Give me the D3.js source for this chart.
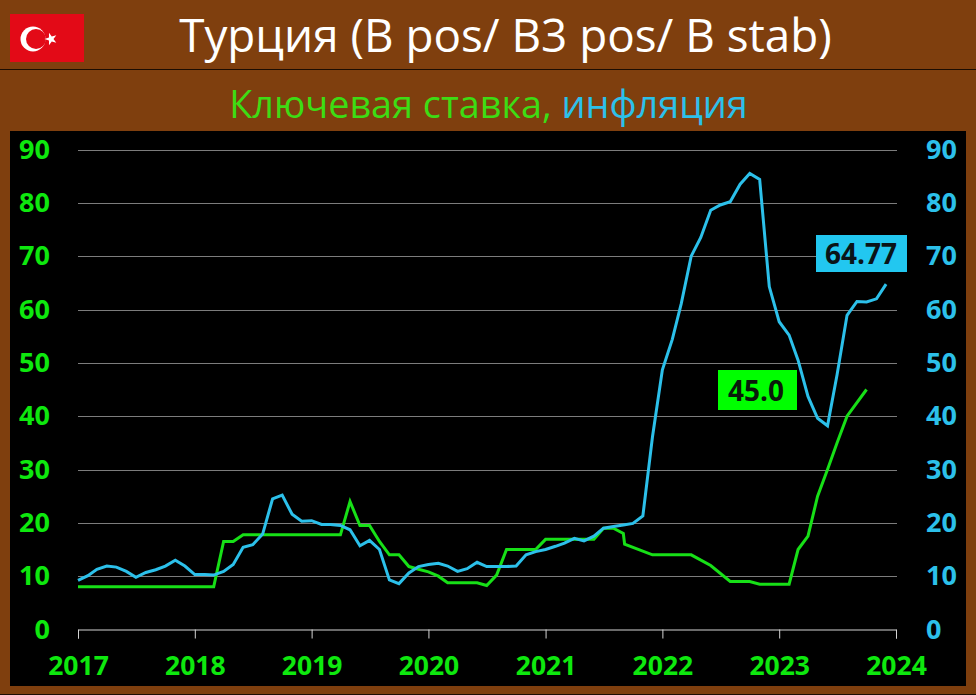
<!DOCTYPE html>
<html>
<head>
<meta charset="utf-8">
<script src="https://cdn.jsdelivr.net/npm/d3@7"></script>
<style>
	html, body { margin: 0; padding: 0; background: #7f3f0e; }
	svg { display: block; font-family: "Open Sans", sans-serif; }
</style>
</head>
<body>
<div id="chart"></div>
<script>
(function() {

	//monthly inflation, Jan 2017 - Dec 2023
	var inflationStart = "2017-01-01";
	var inflationValues = [
		9.2, 10.1, 11.3, 11.9, 11.7, 10.9, 9.8, 10.7, 11.2, 11.9, 13.0, 11.9,
		10.3, 10.3, 10.2, 10.9, 12.2, 15.4, 15.9, 17.9, 24.5, 25.2, 21.6, 20.3,
		20.4, 19.7, 19.7, 19.5, 18.7, 15.7, 16.7, 15.0, 9.3, 8.6, 10.6, 11.8,
		12.2, 12.4, 11.9, 10.9, 11.4, 12.6, 11.8, 11.8, 11.8, 11.9, 14.0, 14.6,
		15.0, 15.6, 16.2, 17.1, 16.6, 17.5, 19.0, 19.3, 19.6, 19.9, 21.3, 36.1,
		48.7, 54.4, 61.1, 70.0, 73.5, 78.6, 79.6, 80.2, 83.5, 85.5, 84.4, 64.3,
		57.7, 55.2, 50.5, 43.7, 39.6, 38.2, 47.8, 58.9, 61.5, 61.4, 62.0, 64.77
	];

	//key rate, turning points
	var rateDates = [
		"2017-01-01", "2018-03-01", "2018-04-01", "2018-05-01", "2018-06-01", "2019-04-01",
		"2019-05-01", "2019-06-01", "2019-07-01", "2019-08-01", "2019-09-01", "2019-10-01",
		"2019-11-01", "2019-12-01", "2020-01-01", "2020-02-01", "2020-03-01", "2020-06-01",
		"2020-07-01", "2020-08-01", "2020-09-01", "2020-12-01", "2021-01-01", "2021-06-01",
		"2021-07-01", "2021-08-01", "2021-09-01", "2021-09-05", "2021-12-01", "2022-04-01",
		"2022-06-01", "2022-08-01", "2022-10-01", "2022-11-01", "2023-02-01", "2023-03-01",
		"2023-04-01", "2023-05-01", "2023-06-01", "2023-07-01", "2023-08-01", "2023-10-01"
	];
	var rateValues = [
		8, 8, 16.5, 16.5, 17.75, 17.75,
		24, 19.5, 19.5, 16.5, 14, 14,
		11.8, 11.3, 10.8, 10, 8.75, 8.75,
		8.25, 10.2, 15, 15, 16.9, 16.9,
		19, 19, 18, 16, 14, 14,
		12, 9, 9, 8.5, 8.5, 15,
		17.5, 25, 30, 35, 40, 45
	];

	var yTicks = [0, 10, 20, 30, 40, 50, 60, 70, 80, 90];
	var yearTicks = [2017, 2018, 2019, 2020, 2021, 2022, 2023, 2024];

	var titleText = "Турция (B pos/ B3 pos/ B stab)";
	var subtitleRate = "Ключевая ставка, ";
	var subtitleInflation = "инфляция";
	var inflationLabel = "64.77";
	var rateLabel = "45.0";

	var brown = "#7f3f0e", green = "#0ee80e", blue = "#2cc0ea";

	var width = 976, height = 695;
	var svg = d3.select("#chart").append("svg")
		.attr("width", width)
		.attr("height", height);

	//panels
	svg.append("rect").attr("width", width).attr("height", height).attr("fill", brown);
	svg.append("rect").attr("x", 10).attr("y", 131).attr("width", 956).attr("height", 555).attr("fill", "#000");
	svg.append("line").attr("x1", 0).attr("x2", width).attr("y1", 69.5).attr("y2", 69.5).attr("stroke", "#1c0d02");
	svg.append("line").attr("x1", 0).attr("x2", width).attr("y1", 694.5).attr("y2", 694.5).attr("stroke", "#1c0d02");

	//flag
	var flag = svg.append("g");
	flag.append("rect").attr("x", 10).attr("y", 14).attr("width", 74).attr("height", 48).attr("fill", "#e30a17");
	flag.append("circle").attr("cx", 33).attr("cy", 39).attr("r", 12.5).attr("fill", "#fff");
	flag.append("circle").attr("cx", 36).attr("cy", 39).attr("r", 10).attr("fill", "#e30a17");
	flag.append("path")
		.attr("d", d3.symbol().type(d3.symbolStar).size(48)())
		.attr("transform", "translate(51,39) rotate(-18)")
		.attr("fill", "#fff");

	//titles
	svg.append("text")
		.attr("x", 505.5).attr("y", 52)
		.attr("text-anchor", "middle")
		.attr("font-size", 45.8)
		.attr("fill", "#fff")
		.text(titleText);

	var sub = svg.append("text")
		.attr("x", 488.5).attr("y", 118)
		.attr("text-anchor", "middle")
		.attr("font-size", 37.8);
	sub.append("tspan").attr("fill", "#3ddc14").text(subtitleRate);
	sub.append("tspan").attr("fill", blue).text(subtitleInflation);

	//scales
	var parse = d3.utcParse("%Y-%m-%d");
	var x = d3.scaleUtc()
		.domain([parse("2017-01-01"), parse("2024-01-01")])
		.range([78, 896]);
	var y = d3.scaleLinear().domain([0, 90]).range([629.5, 149.5]);

	//grid
	svg.append("g").selectAll("line")
		.data(yTicks.slice(1))
		.enter().append("line")
		.attr("x1", 78).attr("x2", 897)
		.attr("y1", function(d) { return Math.round(y(d)) + 0.5; })
		.attr("y2", function(d) { return Math.round(y(d)) + 0.5; })
		.attr("stroke", "#7c7c7c");

	//axes
	var xAxis = d3.axisBottom(x)
		.tickValues(yearTicks.map(function(d) { return parse(d + "-01-01"); }))
		.tickFormat(d3.utcFormat("%Y"))
		.tickSizeOuter(0)
		.tickSize(9)
		.tickPadding(18);
	var gx = svg.append("g").attr("transform", "translate(0,629.5)").call(xAxis);
	gx.selectAll("line, path").attr("stroke", "#d4d4d4");
	gx.selectAll("text")
		.attr("fill", green)
		.attr("font-family", "'Open Sans', sans-serif")
		.attr("font-weight", "bold")
		.attr("font-size", 26.5);

	var yLeft = d3.axisLeft(y).tickValues(yTicks).tickSize(0).tickPadding(0);
	var gl = svg.append("g").attr("transform", "translate(50,0)").call(yLeft);
	gl.select(".domain").remove();
	gl.selectAll("text")
		.attr("fill", green)
		.attr("font-family", "'Open Sans', sans-serif")
		.attr("font-weight", "bold")
		.attr("font-size", 27);

	var yRight = d3.axisRight(y).tickValues(yTicks).tickSize(0).tickPadding(0);
	var gr = svg.append("g").attr("transform", "translate(926,0)").call(yRight);
	gr.select(".domain").remove();
	gr.selectAll("text")
		.attr("fill", blue)
		.attr("font-family", "'Open Sans', sans-serif")
		.attr("font-weight", "bold")
		.attr("font-size", 27);

	//lines
	var line = d3.line()
		.x(function(d) { return x(d.date); })
		.y(function(d) { return y(d.value); });

	var rate = rateDates.map(function(d, i) { return { date: parse(d), value: rateValues[i] }; });
	var start = parse(inflationStart);
	var inflation = inflationValues.map(function(v, i) {
		return { date: d3.utcMonth.offset(start, i), value: v };
	});

	svg.append("path").datum(rate)
		.attr("d", line).attr("fill", "none")
		.attr("stroke", "#17e017").attr("stroke-width", 3);
	svg.append("path").datum(inflation)
		.attr("d", line).attr("fill", "none")
		.attr("stroke", blue).attr("stroke-width", 3);

	//value labels
	svg.append("rect").attr("x", 816).attr("y", 235).attr("width", 91).attr("height", 37).attr("fill", "#22c7f0");
	svg.append("text").attr("x", 861).attr("y", 264)
		.attr("text-anchor", "middle").attr("font-weight", "bold").attr("font-size", 28)
		.attr("fill", "#0a1418").text(inflationLabel);

	svg.append("rect").attr("x", 718).attr("y", 370).attr("width", 79).attr("height", 40).attr("fill", "#00ff00");
	svg.append("text").attr("x", 756).attr("y", 401)
		.attr("text-anchor", "middle").attr("font-weight", "bold").attr("font-size", 28)
		.attr("fill", "#0a1a0a").text(rateLabel);

})();
</script>
</body>
</html>
